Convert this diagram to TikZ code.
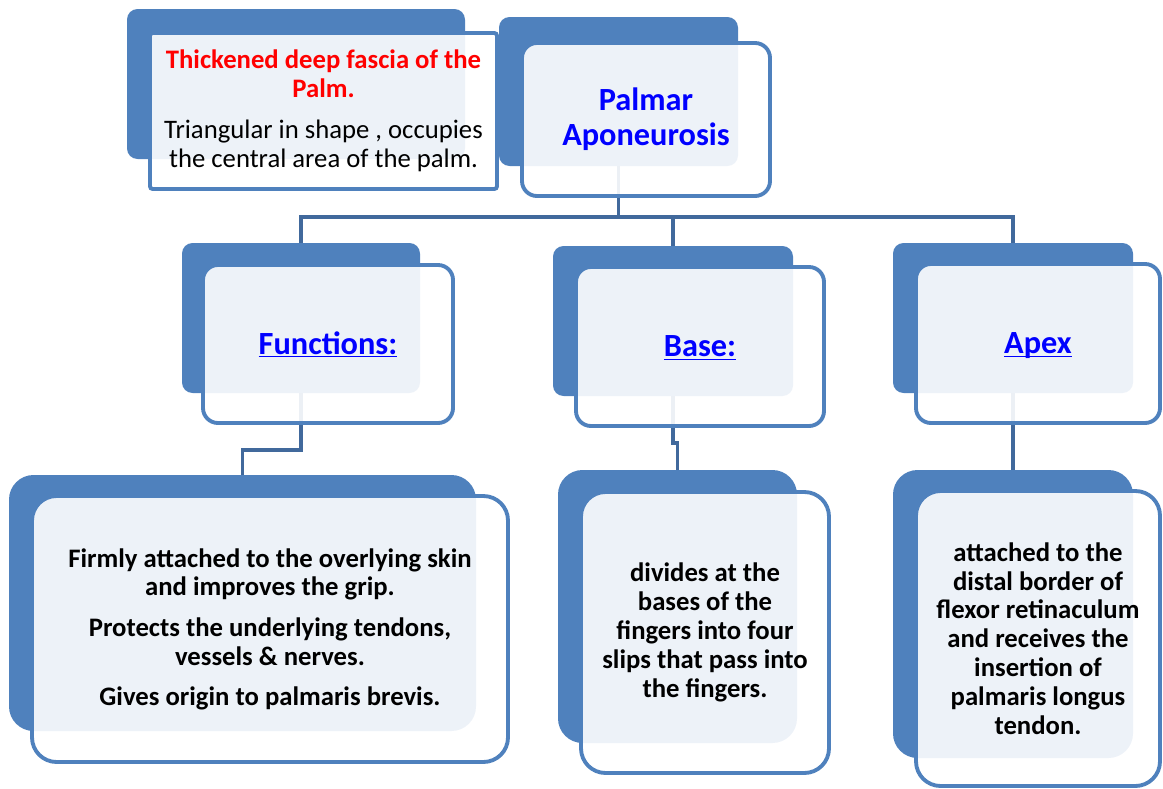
\documentclass[tikz,border=0pt]{standalone}
\usepackage{fontspec}
\setmainfont{Carlito}
\usetikzlibrary{calc}
\definecolor{boxblue}{HTML}{4F81BD}
\definecolor{linkblue}{HTML}{41699C}
\definecolor{titleblue}{HTML}{0000FF}
\definecolor{titlered}{HTML}{FF0000}
\newcommand{\redhead}[1]{\textcolor{titlered}{\bfseries #1}}
\newcommand{\linklabel}[1]{\underline{\smash{#1}}}
\tikzset{
	boxsize/.style 2 args={minimum width=#1*0.02cm, minimum height=#2*0.02cm},
	backbox/.style={fill=boxblue, inner sep=0pt, rounded corners=6pt},
	frontbox/.style={draw=boxblue, line width=2.2pt, fill=white, fill opacity=0.9, text opacity=1, rounded corners=8.5pt, align=center, inner sep=0pt},
	linkline/.style={draw=linkblue, line width=2.2pt},
	headtext/.style={font=\fontsize{18.4}{19.8}\selectfont\bfseries, text=titleblue},
	linktext/.style={headtext, text height=13pt, text depth=1.6pt},
	bodytext/.style={font=\fontsize{15.2}{16.4}\selectfont\bfseries},
}

\begin{document}
\begin{tikzpicture}[x=0.02cm, y=-0.02cm]
		%%%%% START %%%%%
		\useasboundingbox (0,0) rectangle (1163,788);
		
		% back boxes
		\node[backbox, boxsize={338}{150}] (fasciaback) at (296,84) {};
		\node[backbox, boxsize={239}{149}] (palmarback) at (618.5,91.5) {};
		\node[backbox, boxsize={238}{150}] (funcback) at (301,318) {};
		\node[backbox, boxsize={240}{150}] (baseback) at (673,321) {};
		\node[backbox, boxsize={240}{150}] (apexback) at (1013,318) {};
		\node[backbox, boxsize={467}{256}, rounded corners=14pt] (funcdetback) at (242.5,603) {};
		\node[backbox, boxsize={239}{273}, rounded corners=14pt] (basedetback) at (677.5,606.5) {};
		\node[backbox, boxsize={240}{288}, rounded corners=14pt] (apexdetback) at (1013,614) {};
		
		% connectors
		\coordinate (hub) at ($(palmarback.south)+(0,51)$);
		\draw[linkline] (palmarback.south) -- (hub);
		\draw[linkline] (hub) -| (funcback.north);
		\draw[linkline] (hub) -| (baseback.north);
		\draw[linkline] (hub) -| (apexback.north);
		\draw[linkline] (funcback.south) -- ++(0,57) -| (funcdetback.north);
		\draw[linkline] (baseback.south) -- ++(0,47) -| (basedetback.north);
		\draw[linkline] (apexback.south) -- (apexdetback.north);
		
		% front boxes
		\node[frontbox, boxsize={347}{156}, rounded corners=1.5pt, font=\fontsize{15.2}{16.5}\selectfont] (fascia) at (323.5,111)
			{\redhead{Thickened deep fascia of the}\\\redhead{Palm.}\\[7pt]
			Triangular in shape , occupies\\the central area of the palm.};
		\node[frontbox, boxsize={248}{153}, headtext] (palmar) at (646,119.5) {Palmar\\Aponeurosis};
		\node[frontbox, boxsize={250}{158}, linktext] (func) at (328,344) {\linklabel{Functions:}};
		\node[frontbox, boxsize={248}{159}, linktext] (base) at (700,346.5) {\linklabel{Base:}};
		\node[frontbox, boxsize={244}{159}, linktext] (apex) at (1038,343.5) {\linklabel{Apex}};
		
		\node[frontbox, boxsize={476}{266}, rounded corners=14pt, bodytext] (funcdet) at (270,629)
			{Firmly attached to the overlying skin\\and improves the grip.\\[7pt]
			Protects the underlying tendons,\\vessels \& nerves.\\[6pt]
			Gives origin to palmaris brevis.};
		\node[frontbox, boxsize={248}{281}, rounded corners=14pt, bodytext] (basedet) at (705,632.5)
			{divides at the\\bases of the\\fingers into four\\slips that pass into\\the fingers.};
		\node[frontbox, boxsize={244}{295}, rounded corners=14pt, bodytext] (apexdet) at (1038,638.5)
			{attached to the\\distal border of\\flexor retinaculum\\and receives the\\insertion of\\palmaris longus\\tendon.};
		
		%%%%% END %%%%%
	\end{tikzpicture}
\end{document}
